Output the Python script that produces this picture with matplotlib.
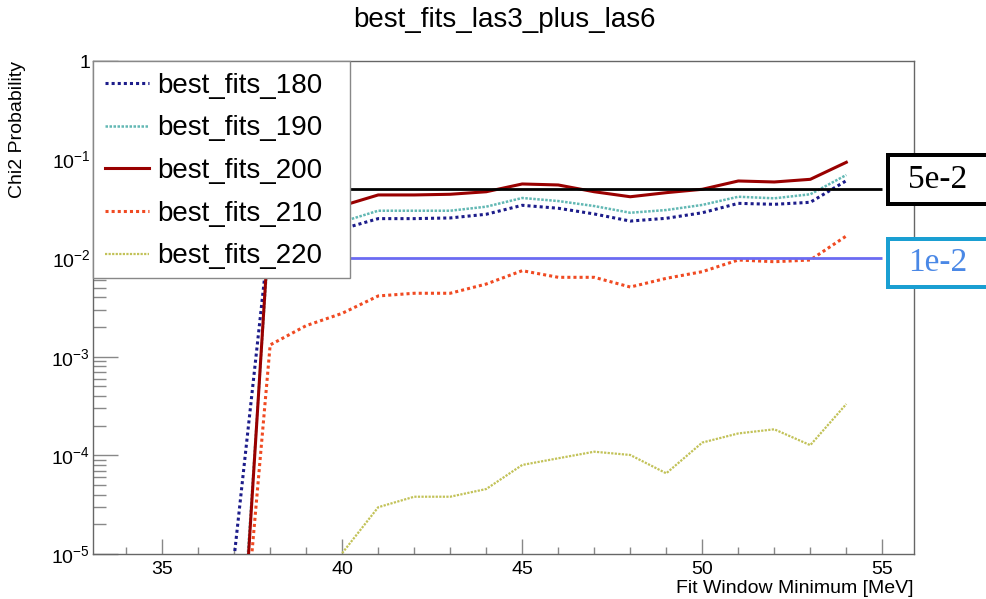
import numpy as np
import matplotlib
matplotlib.use("Agg")
import matplotlib.pyplot as plt
from matplotlib.patches import Rectangle
from matplotlib.ticker import FixedLocator, LogLocator, NullFormatter, MultipleLocator

plt.rcParams['font.family'] = ['Liberation Sans', 'DejaVu Sans']
plt.rcParams['mathtext.fontset'] = 'custom'
plt.rcParams['mathtext.rm'] = 'Liberation Sans'
plt.rcParams['mathtext.it'] = 'Liberation Sans:italic'
plt.rcParams['mathtext.bf'] = 'Liberation Sans:bold'

# ---- data ----
fit_min = [37, 38, 39, 40, 41, 42, 43, 44, 45, 46, 47, 48, 49, 50, 51, 52, 53, 54]
nan = np.nan
best_fits_180 = [9.3e-6, 0.021, 0.020, 0.0198, 0.0252, 0.0252, 0.0256, 0.0279, 0.0344, 0.0321,
                 0.0281, 0.0238, 0.0254, 0.0289, 0.0360, 0.0352, 0.0369, 0.0611]
best_fits_190 = [8.0e-8, 0.025, 0.024, 0.0234, 0.0303, 0.0303, 0.0303, 0.0333, 0.0408, 0.0380,
                 0.0338, 0.0289, 0.0308, 0.0347, 0.0420, 0.0405, 0.0445, 0.0698]
best_fits_200 = [4.6e-8, 0.032, 0.033, 0.034, 0.0438, 0.0438, 0.0445, 0.0472, 0.0566, 0.0553,
                 0.0472, 0.0420, 0.0462, 0.0500, 0.0607, 0.0593, 0.0631, 0.0939]
best_fits_210 = [9e-8, 1.32e-3, 2.07e-3, 2.76e-3, 4.14e-3, 4.41e-3, 4.41e-3, 5.47e-3, 7.47e-3, 6.40e-3,
                 6.40e-3, 5.10e-3, 6.25e-3, 7.30e-3, 9.59e-3, 9.21e-3, 9.59e-3, 0.0168]
best_fits_220 = [nan, nan, nan, 1.02e-5, 2.98e-5, 3.81e-5, 3.81e-5, 4.56e-5, 8.0e-5, 9.35e-5,
                 1.09e-4, 1.01e-4, 6.58e-5, 1.35e-4, 1.67e-4, 1.84e-4, 1.27e-4, 3.32e-4]
series_names = ["best_fits_180", "best_fits_190", "best_fits_200", "best_fits_210", "best_fits_220"]
thresholds = [0.05, 0.01]
threshold_labels = ["5e-2", "1e-2"]
threshold_end = 55
y_ticks = [1e-5, 1e-4, 1e-3, 1e-2, 1e-1, 1]
y_tick_labels = [r'$\mathregular{10^{-5}}$', r'$\mathregular{10^{-4}}$', r'$\mathregular{10^{-3}}$',
                 r'$\mathregular{10^{-2}}$', r'$\mathregular{10^{-1}}$', '1']
x_ticks = [35, 40, 45, 50, 55]

W, H = 987, 599
fig = plt.figure(figsize=(W / 100, H / 100), dpi=100)
L, R, T, B = 93, 914, 61, 554
ax = fig.add_axes([L / W, (H - B) / H, (R - L) / W, (B - T) / H])

styles = [
    dict(color='#1c1c8a', lw=2.2, ls=(0, (1, 1))),
    dict(color='#62b8b4', lw=1.8, ls=(0, (1, 0.6))),
    dict(color='#990000', lw=2.2, ls='-'),
    dict(color='#f04a22', lw=2.2, ls=(0, (1, 1))),
    dict(color='#c2c258', lw=1.6, ls=(0, (1, 0.6))),
]
all_series = [best_fits_180, best_fits_190, best_fits_200, best_fits_210, best_fits_220]
for name, vals, st in zip(series_names, all_series, styles):
    ax.plot(fit_min, vals, label=name, color=st['color'], lw=st['lw'], linestyle=st['ls'],
            zorder=3)

x0, x1 = 33.08, 55.88
ax.hlines(thresholds[0], x0, threshold_end, color='black', lw=2, zorder=4)
ax.hlines(thresholds[1], x0, threshold_end, color='#6b6bf2', lw=2, zorder=4)

ax.set_yscale('log')
ax.set_xlim(x0, x1)
ax.set_ylim(1e-5, 1)

ax.yaxis.set_major_locator(FixedLocator(y_ticks))
ax.set_yticklabels(y_tick_labels)
ax.yaxis.set_minor_locator(LogLocator(base=10, subs=np.arange(2, 10)))
ax.yaxis.set_minor_formatter(NullFormatter())
ax.xaxis.set_major_locator(FixedLocator(x_ticks))
ax.xaxis.set_minor_locator(MultipleLocator(1))

tick_col = '#888888'
ax.tick_params(axis='y', which='major', direction='in', length=18, width=1, color=tick_col,
               labelsize=14, pad=2, right=False)
ax.tick_params(axis='y', which='minor', direction='in', length=9.4, width=1, color=tick_col, right=False)
ax.tick_params(axis='x', which='major', direction='in', length=10.8, width=1, color=tick_col,
               labelsize=14, pad=5, top=False)
ax.tick_params(axis='x', which='minor', direction='in', length=5, width=1, color=tick_col, top=False)
for sp in ax.spines.values():
    sp.set_color('#666666')
    sp.set_linewidth(1)

# legend frame (drawn separately to match the box size)
leg_l, leg_t, leg_r, leg_b = 93, 61, 350, 278
frame = Rectangle((leg_l / W, 1 - leg_b / H), (leg_r - leg_l) / W, (leg_b - leg_t) / H,
                  transform=fig.transFigure, facecolor='white', edgecolor='#888888',
                  linewidth=1, zorder=9)
fig.patches.append(frame)

leg = ax.legend(loc='upper left', bbox_to_anchor=(0, 1), borderaxespad=0, fontsize=20,
                handlelength=1.6, handletextpad=0.3, labelspacing=0.6, borderpad=0.42,
                frameon=False)
leg.set_zorder(10)
fig.legends.append(leg)
ax.get_legend().remove()

fig.text(504 / W, 1 - 26.7 / H, "best_fits_las3_plus_las6", ha='center', va='baseline', fontsize=20)
fig.text(18 / W, 1 - 61.5 / H, "Chi2 Probability", rotation=90, ha='center', va='top', fontsize=14)
fig.text(R / W, 6.3 / H, "Fit Window Minimum [MeV]", ha='right', va='baseline', fontsize=14)

# annotation boxes
boxes = [(153, 205.7, 'black', 'black'), (236.7, 289, '#1a9fd2', '#4a88e6')]
for (top, bot, ec, tc), lab in zip(boxes, threshold_labels):
    lw_px = 4
    r = Rectangle(((886 + lw_px / 2) / W, 1 - (bot - lw_px / 2) / H), (120) / W,
                  (bot - top - lw_px) / H, transform=fig.transFigure, facecolor='white',
                  edgecolor=ec, linewidth=lw_px * 0.72, clip_on=False, zorder=20)
    fig.patches.append(r)
    fig.text(938 / W, 1 - (top + bot) / 2 / H, lab, ha='center', va='center', fontsize=24,
             family=['Liberation Serif', 'DejaVu Serif'], color=tc, zorder=21)

fig.savefig('out.png', dpi=100)
